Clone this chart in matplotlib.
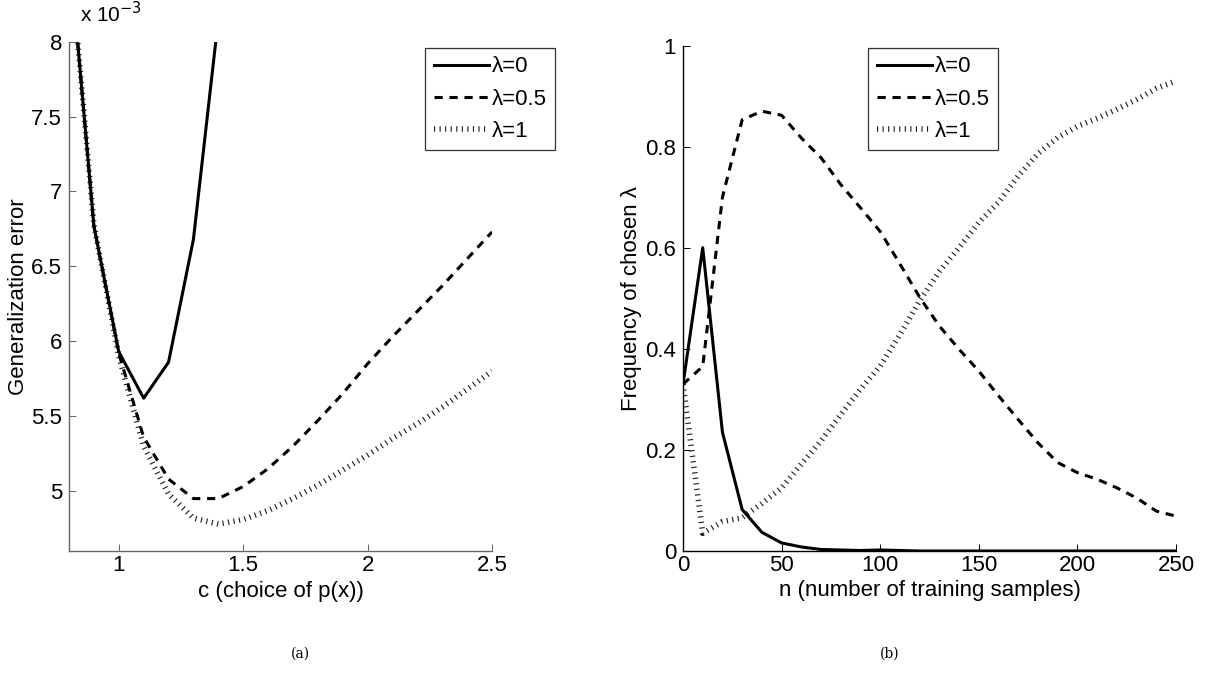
import matplotlib
matplotlib.use("Agg")
import matplotlib.pyplot as plt

plt.rcParams["font.family"] = ["Liberation Sans", "DejaVu Sans"]

# (a) generalization error, in units of 1e-3
c_lam0 = [0.8, 0.9, 1.0, 1.1, 1.2, 1.3, 1.4]
err_lam0 = [8.65, 6.77, 5.93, 5.62, 5.86, 6.68, 8.15]
c_grid = [0.8, 0.9, 1.0, 1.1, 1.2, 1.3, 1.4, 1.5, 1.6, 1.7, 1.8, 1.9,
          2.0, 2.1, 2.2, 2.3, 2.4, 2.5]
err_lam05 = [8.65, 6.77, 5.92, 5.36, 5.08, 4.95, 4.95, 5.03, 5.15, 5.30,
             5.47, 5.65, 5.85, 6.03, 6.20, 6.37, 6.55, 6.73]
err_lam1 = [8.65, 6.78, 5.90, 5.30, 4.98, 4.82, 4.78, 4.81, 4.87, 4.95,
            5.04, 5.14, 5.24, 5.35, 5.45, 5.56, 5.68, 5.80]

# (b) frequency of chosen lambda vs number of training samples
n_train = [0, 10, 20, 30, 40, 50, 60, 70, 80, 90, 100, 110, 120, 130, 140,
           150, 160, 170, 180, 190, 200, 210, 220, 230, 240, 250]
freq_lam0 = [0.33, 0.60, 0.235, 0.082, 0.037, 0.016, 0.008, 0.003, 0.002,
             0.001, 0.002, 0.001, 0, 0, 0, 0, 0, 0, 0, 0, 0, 0, 0, 0, 0, 0]
freq_lam05 = [0.33, 0.365, 0.70, 0.853, 0.870, 0.862, 0.817, 0.778, 0.725,
              0.679, 0.632, 0.568, 0.502, 0.445, 0.399, 0.356, 0.307, 0.260,
              0.214, 0.175, 0.155, 0.142, 0.125, 0.105, 0.079, 0.069]
freq_lam1 = [0.33, 0.035, 0.058, 0.066, 0.094, 0.125, 0.172, 0.218, 0.270,
             0.320, 0.366, 0.428, 0.495, 0.553, 0.600, 0.650, 0.690, 0.742,
             0.786, 0.818, 0.840, 0.856, 0.874, 0.893, 0.915, 0.930]

labels = ["λ=0", "λ=0.5", "λ=1"]

W, H = 1209, 681
fig = plt.figure(figsize=(W / 100, H / 100), dpi=100)
ax1 = fig.add_axes([69 / W, 1 - 551 / H, 423 / W, (551 - 41.7) / H])
ax2 = fig.add_axes([683 / W, 1 - 551 / H, 493 / W, (551 - 45.5) / H])

solid = dict(color="black", lw=2.2, linestyle="-")
dashed = dict(color="black", lw=2.2, linestyle=(0, (2.7, 2.2)), dash_capstyle="butt")
ticked = dict(color="0.1", lw=4.0, linestyle=(0, (0.2, 0.8)), dash_capstyle="butt")

ax1.plot(c_grid, err_lam1, label=labels[2], **ticked)
ax1.plot(c_grid, err_lam05, label=labels[1], **dashed)
ax1.plot(c_lam0, err_lam0, label=labels[0], **solid)
ax1.set_xlim(0.8, 2.5)
ax1.set_ylim(4.6, 8)
ax1.set_xticks([1, 1.5, 2, 2.5])
ax1.set_xticklabels(["1", "1.5", "2", "2.5"])
ax1.set_yticks([5, 5.5, 6, 6.5, 7, 7.5, 8])
ax1.set_yticklabels(["5", "5.5", "6", "6.5", "7", "7.5", "8"])
ax1.set_xlabel("c (choice of p(x))", fontsize=16)
ax1.set_ylabel("Generalization error", fontsize=16)
fig.text(80 / W, 1 - 22 / H, r"x 10$^{-3}$", fontsize=15, va="baseline", ha="left")

ax2.plot(n_train, freq_lam1, label=labels[2], **ticked)
ax2.plot(n_train, freq_lam05, label=labels[1], **dashed)
ax2.plot(n_train, freq_lam0, label=labels[0], **solid)
ax2.set_xlim(0, 250)
ax2.set_ylim(0, 1)
ax2.set_xticks([0, 50, 100, 150, 200, 250])
ax2.set_yticks([0, 0.2, 0.4, 0.6, 0.8, 1])
ax2.set_yticklabels(["0", "0.2", "0.4", "0.6", "0.8", "1"])
ax2.set_xlabel("n (number of training samples)", fontsize=16)
ax2.set_ylabel("Frequency of chosen λ", fontsize=16)

setup = [
    (ax1, "0.4", (555 / W, 1 - 48 / H), -0.095),
    (ax2, "black", (998 / W, 1 - 48 / H), -0.083),
]
for ax, spine_col, anchor, ylab_x in setup:
    ax.spines["top"].set_visible(False)
    ax.spines["right"].set_visible(False)
    for s in ("left", "bottom"):
        ax.spines[s].set_color(spine_col)
        ax.spines[s].set_linewidth(1.0)
    ax.tick_params(direction="in", length=5, width=0.7, labelsize=16,
                   colors=spine_col, labelcolor="black")
    ax.tick_params(axis="x", pad=3)
    ax.tick_params(axis="y", pad=5)
    ax.yaxis.set_label_coords(ylab_x, 0.5)
    ax.xaxis.set_label_coords(0.5, -0.058)
    handles, labs = ax.get_legend_handles_labels()
    leg = ax.legend(handles[::-1], labs[::-1], loc="upper right",
                    bbox_to_anchor=anchor, bbox_transform=fig.transFigure,
                    fontsize=16, frameon=True, fancybox=False, edgecolor="black",
                    handlelength=2.5, handletextpad=0.1, labelspacing=0.5,
                    borderpad=0.38, borderaxespad=0)
    leg.get_frame().set_linewidth(0.9)

fig.text(300 / W, 1 - 654 / H, "(a)", fontsize=10, family="DejaVu Serif", ha="center", va="center")
fig.text(890 / W, 1 - 654 / H, "(b)", fontsize=10, family="DejaVu Serif", ha="center", va="center")

fig.savefig("out.png", dpi=100)
